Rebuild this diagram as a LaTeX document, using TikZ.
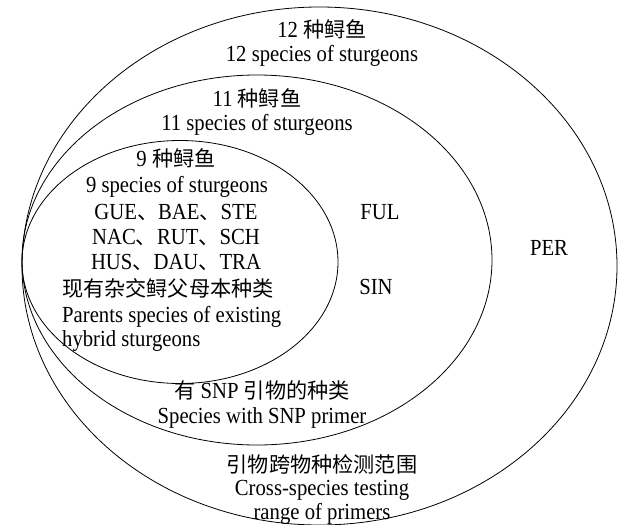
\documentclass[tikz,border=0pt]{standalone}
\usepackage{fontspec}
\setmainfont{Liberation Serif}[FakeStretch=0.9]
\newfontfamily\cjk{Noto Sans CJK SC}[Scale=0.92]
\usetikzlibrary{shapes.geometric}
\begin{document}
\begin{tikzpicture}[x=1pt,y=-1pt,
  ring/.style={draw=black,line width=0.8pt,ellipse,inner sep=0pt,outer sep=0pt},
  lbl/.style={inner sep=0pt,yshift=-4pt,font=\fontsize{23}{24}\selectfont,text height=0.65em,text depth=0.2em},
  lbll/.style={lbl,anchor=west}]
\useasboundingbox (0,0) rectangle (619,525);
\fill[white] (0,0) rectangle (619,525);
\node[ring,minimum width=595pt,minimum height=518pt] (outer) at (319.5,266) {};
\node[ring,minimum width=470pt,minimum height=370pt] (middle) at (257,260) {};
\node[ring,minimum width=316pt,minimum height=243pt] (inner) at (180,262) {};
\node[lbl] (t12a) at (322,31) {12 {\cjk 种鲟鱼}};
\node[lbl] (t12b) at (322,55) {12 species of sturgeons};
\node[lbl] (t11a) at (257,100) {11 {\cjk 种鲟鱼}};
\node[lbl] (t11b) at (257,124) {11 species of sturgeons};
\node[lbl] (t9a) at (176,160) {9 {\cjk 种鲟鱼}};
\node[lbl] (t9b) at (177,186) {9 species of sturgeons};
\node[lbl] (s1) at (176,213) {GUE{\cjk 、}BAE{\cjk 、}STE};
\node[lbl] (s2) at (176,238) {NAC{\cjk 、}RUT{\cjk 、}SCH};
\node[lbl] (s3) at (176,263) {HUS{\cjk 、}DAU{\cjk 、}TRA};
\node[lbll] (p1) at (62,290) {\cjk 现有杂交鲟父母本种类};
\node[lbll] (p2) at (62,316) {Parents species of existing};
\node[lbll] (p3) at (62,340) {hybrid sturgeons};
\node[lbl] (ful) at (380,213) {FUL};
\node[lbl] (sin) at (376,288) {SIN};
\node[lbl] (per) at (549,249) {PER};
\node[lbl] (snpa) at (262,392) {{\cjk 有} SNP {\cjk 引物的种类}};
\node[lbl] (snpb) at (262,417) {Species with SNP primer};
\node[lbl] (cra) at (322,466) {\cjk 引物跨物种检测范围};
\node[lbl] (crb) at (322,489) {Cross-species testing};
\node[lbl] (crc) at (322,513) {range of primers};
\end{tikzpicture}
\end{document}
